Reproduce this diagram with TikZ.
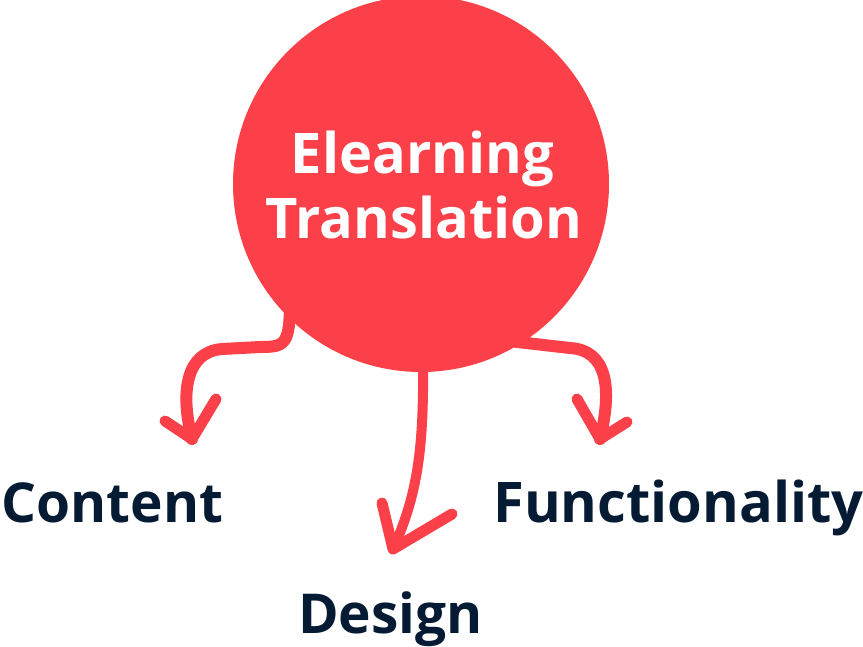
\documentclass[tikz,border=0pt]{standalone}
\usepackage{fontspec}
\setmainfont{Open Sans}
\definecolor{brandred}{RGB}{252,64,73}
\definecolor{navy}{RGB}{5,26,51}
\tikzset{
  arrowline/.style={draw=brandred, line width=12pt, line cap=round, line join=round},
  headline/.style={draw=brandred, line width=11pt, line cap=round, line join=round},
  lbl/.style={text=navy, font=\fontsize{56}{60}\selectfont\bfseries, inner sep=0pt, anchor=base},
  ttl/.style={text=white, font=\fontsize{56}{60}\selectfont\bfseries, inner sep=0pt, anchor=base}
}
\begin{document}
\begin{tikzpicture}[x=1pt,y=-1pt]
\useasboundingbox (0,0) rectangle (863,646);
% arrows (behind circle)
\coordinate (ls) at (290,300);
\coordinate (lt) at (192,439);
\coordinate (ms) at (423,350);
\coordinate (mt) at (393,549);
\coordinate (rs) at (500,340);
\coordinate (rt) at (600,439);
\draw[arrowline] (ls) .. controls (290,345) and (285,347) .. (260,347) -- (222,349) .. controls (186,352) and (180,392) .. (lt);
\draw[headline] (165,421) -- (lt) -- (216,399);
\draw[arrowline, line width=10pt] (ms) .. controls (424,440) and (420,490) .. (mt);
\draw[headline] (382,503) -- (mt) -- (452,514);
\draw[arrowline] (rs) -- (570,348) .. controls (606,350) and (613,386) .. (rt);
\draw[headline] (577,399) -- (rt) -- (627,422);
% circle
\node[circle, fill=brandred, minimum size=376pt, inner sep=0pt] (c) at (421,184) {};
\node[ttl] (t1) at (422.5,173) {Elearning};
\node[ttl] (t2) at (424,238) {Translation};
% labels
\node[lbl, font=\fontsize{55}{58}\selectfont\bfseries] (content) at (112.5,522) {Content};
\node[lbl, font=\fontsize{55}{58}\selectfont\bfseries] (design) at (390.5,633) {Design};
\node[lbl] (func) at (678.5,522) {Functionality};
\end{tikzpicture}
\end{document}
